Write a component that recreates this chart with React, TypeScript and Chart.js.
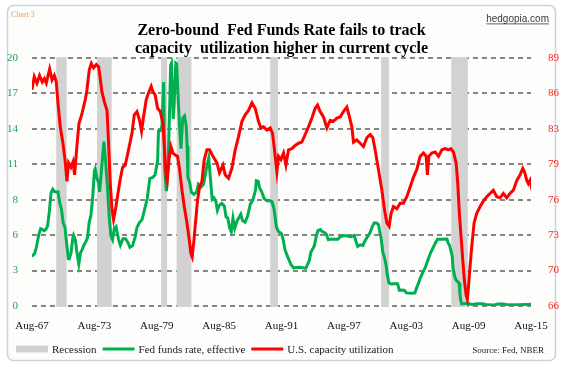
import React, { useEffect, useRef } from 'react';
import { Chart, registerables } from 'chart.js';

Chart.register(...registerables);

// ---------- data ----------
const xTickDates = ['1967-08', '1973-08', '1979-08', '1985-08', '1991-08', '1997-08', '2003-08', '2009-08', '2015-08'];
const xTickLabels = ['Aug-67', 'Aug-73', 'Aug-79', 'Aug-85', 'Aug-91', 'Aug-97', 'Aug-03', 'Aug-09', 'Aug-15'];
const leftTickLabels = ['0', '3', '6', '8', '11', '14', '17', '20'];
const rightTickLabels = ['66', '70', '73', '76', '79', '83', '86', '89'];
const leftRange = [0, 19.5];
const rightRange = [66.3, 89];

const recessionStarts = ['1969-12', '1973-11', '1980-01', '1981-07', '1990-07', '2001-03', '2007-12'];
const recessionEnds = ['1970-11', '1975-03', '1980-07', '1982-11', '1991-03', '2001-11', '2009-06'];

// Fed funds rate, effective (%), by month
const fedFunds: [string, number][] = [
  ['1967-08', 3.9], ['1967-11', 4.12], ['1968-01', 4.61], ['1968-04', 5.66], ['1968-06', 6.07], ['1968-08', 6.02],
  ['1968-10', 5.92], ['1968-12', 6.02], ['1969-02', 6.3], ['1969-04', 7.41], ['1969-06', 8.9], ['1969-08', 9.19],
  ['1969-10', 9.0], ['1969-12', 8.97], ['1970-02', 8.98], ['1970-04', 8.1], ['1970-06', 7.6], ['1970-08', 6.53],
  ['1970-10', 6.2], ['1970-12', 4.9], ['1971-02', 3.72], ['1971-03', 3.71], ['1971-05', 4.14], ['1971-07', 5.31],
  ['1971-08', 5.56], ['1971-10', 5.2], ['1971-12', 4.14], ['1972-02', 3.29], ['1972-04', 4.17], ['1972-06', 4.46],
  ['1972-08', 4.8], ['1972-10', 5.04], ['1972-12', 5.33], ['1973-02', 6.58], ['1973-04', 7.12], ['1973-06', 8.49],
  ['1973-08', 10.61], ['1973-09', 10.78], ['1973-11', 10.03], ['1974-01', 9.65], ['1974-02', 8.97], ['1974-04', 10.51],
  ['1974-07', 12.92], ['1974-09', 11.34], ['1974-11', 9.45], ['1975-01', 7.13], ['1975-03', 5.54], ['1975-05', 5.22],
  ['1975-07', 6.1], ['1975-09', 6.24], ['1975-12', 5.2], ['1976-02', 4.77], ['1976-05', 5.29], ['1976-08', 5.29],
  ['1976-11', 4.95], ['1977-01', 4.61], ['1977-04', 4.73], ['1977-07', 5.42], ['1977-09', 6.14], ['1977-12', 6.56],
  ['1978-03', 6.79], ['1978-06', 7.6], ['1978-09', 8.45], ['1978-12', 10.03], ['1979-03', 10.09], ['1979-06', 10.29],
  ['1979-09', 11.43], ['1979-10', 13.77], ['1979-12', 13.78], ['1980-02', 14.13], ['1980-04', 17.61], ['1980-05', 10.98],
  ['1980-07', 9.03], ['1980-09', 10.87], ['1980-11', 15.85], ['1980-12', 18.9], ['1981-01', 19.08], ['1981-03', 14.7],
  ['1981-04', 15.72], ['1981-06', 19.1], ['1981-07', 19.04], ['1981-09', 15.87], ['1981-11', 13.31], ['1981-12', 12.37],
  ['1982-02', 14.78], ['1982-04', 14.94], ['1982-06', 14.15], ['1982-07', 12.59], ['1982-08', 10.12], ['1982-10', 9.71],
  ['1982-12', 8.95], ['1983-03', 8.77], ['1983-06', 8.98], ['1983-08', 9.56], ['1983-11', 9.34], ['1984-02', 9.59],
  ['1984-04', 10.29], ['1984-06', 11.06], ['1984-08', 11.64], ['1984-10', 9.99], ['1984-12', 8.38], ['1985-02', 8.5],
  ['1985-04', 8.27], ['1985-06', 7.53], ['1985-08', 7.9], ['1985-11', 8.07], ['1986-02', 7.86], ['1986-04', 6.99],
  ['1986-06', 6.92], ['1986-08', 6.17], ['1986-10', 5.85], ['1986-12', 6.91], ['1987-02', 6.1], ['1987-05', 6.73],
  ['1987-09', 7.22], ['1987-11', 6.72], ['1988-02', 6.58], ['1988-05', 7.09], ['1988-08', 8.01], ['1988-11', 8.35],
  ['1989-02', 9.12], ['1989-03', 9.85], ['1989-05', 9.81], ['1989-07', 9.24], ['1989-09', 9.01], ['1989-12', 8.45],
  ['1990-03', 8.28], ['1990-06', 8.29], ['1990-09', 8.2], ['1990-11', 7.74], ['1990-12', 7.31], ['1991-02', 6.25],
  ['1991-04', 5.91], ['1991-06', 5.78], ['1991-08', 5.68], ['1991-10', 5.21], ['1991-12', 4.43], ['1992-02', 4.06],
  ['1992-04', 3.73], ['1992-07', 3.25], ['1992-10', 2.99], ['1993-01', 3.02], ['1993-06', 3.04], ['1993-12', 2.96],
  ['1994-02', 3.25], ['1994-04', 3.56], ['1994-06', 4.25], ['1994-08', 4.47], ['1994-10', 4.76], ['1994-12', 5.45],
  ['1995-02', 5.92], ['1995-05', 6.01], ['1995-07', 5.85], ['1995-10', 5.76], ['1995-12', 5.6], ['1996-02', 5.22],
  ['1996-06', 5.27], ['1996-10', 5.24], ['1997-01', 5.25], ['1997-04', 5.45], ['1997-08', 5.54], ['1997-12', 5.5],
  ['1998-04', 5.45], ['1998-08', 5.55], ['1998-10', 5.07], ['1998-12', 4.68], ['1999-03', 4.81], ['1999-06', 4.76],
  ['1999-08', 5.07], ['1999-11', 5.42], ['2000-02', 5.73], ['2000-05', 6.27], ['2000-07', 6.54], ['2000-10', 6.51],
  ['2000-12', 6.4], ['2001-01', 5.98], ['2001-03', 5.31], ['2001-05', 4.21], ['2001-07', 3.77], ['2001-09', 3.07],
  ['2001-10', 2.49], ['2001-12', 1.82], ['2002-03', 1.73], ['2002-06', 1.75], ['2002-10', 1.75], ['2002-12', 1.24],
  ['2003-03', 1.25], ['2003-06', 1.22], ['2003-08', 1.03], ['2004-03', 1.0], ['2004-06', 1.03], ['2004-08', 1.43],
  ['2004-10', 1.76], ['2004-12', 2.16], ['2005-03', 2.63], ['2005-06', 3.04], ['2005-09', 3.62], ['2005-12', 4.16],
  ['2006-03', 4.59], ['2006-06', 4.99], ['2006-08', 5.25], ['2007-01', 5.25], ['2007-07', 5.26], ['2007-08', 5.02],
  ['2007-10', 4.76], ['2007-12', 4.24], ['2008-01', 3.94], ['2008-02', 2.98], ['2008-04', 2.28], ['2008-06', 2.0],
  ['2008-09', 1.81], ['2008-10', 0.97], ['2008-11', 0.39], ['2008-12', 0.16], ['2009-06', 0.21], ['2009-12', 0.12],
  ['2010-06', 0.18], ['2010-12', 0.18], ['2011-06', 0.09], ['2011-12', 0.07], ['2012-06', 0.16], ['2012-12', 0.16],
  ['2013-06', 0.09], ['2013-12', 0.09], ['2014-06', 0.1], ['2014-12', 0.12], ['2015-06', 0.13], ['2015-08', 0.14],
];

// U.S. capacity utilization (%), [decimal year, value]
const capacity: [number, number][] = [
  [1967.58, 86.1], [1967.8, 87.3], [1968.06, 86.7], [1968.31, 87.4], [1968.57, 86.8], [1968.77, 87.1], [1968.96, 86.7],
  [1969.28, 88.0], [1969.51, 87.0], [1969.73, 87.4], [1969.92, 86.8], [1970.08, 84.9], [1970.3, 82.7], [1970.56, 81.2],
  [1970.76, 79.7], [1970.95, 77.7], [1971.1, 79.4], [1971.33, 79.0], [1971.53, 79.5], [1971.68, 78.3], [1971.91, 81.0],
  [1972.1, 83.0], [1972.39, 83.9], [1972.71, 85.2], [1972.87, 86.1], [1973.09, 87.9], [1973.29, 88.5], [1973.51, 88.1],
  [1973.77, 88.4], [1973.99, 88.2], [1974.15, 87.1], [1974.31, 85.9], [1974.54, 85.0], [1974.8, 84.2], [1974.95, 81.2],
  [1975.11, 77.5], [1975.28, 75.1], [1975.43, 74.2], [1975.66, 75.4], [1975.85, 76.6], [1976.07, 77.9], [1976.3, 79.0],
  [1976.55, 79.2], [1976.87, 80.6], [1977.2, 82.1], [1977.42, 83.8], [1977.68, 84.1], [1977.93, 83.3], [1978.12, 82.3],
  [1978.31, 83.6], [1978.57, 85.2], [1978.79, 85.8], [1979.05, 86.4], [1979.22, 85.9], [1979.44, 85.6], [1979.66, 84.4],
  [1979.92, 84.1], [1980.18, 83.0], [1980.33, 80.6], [1980.5, 78.1], [1980.59, 77.7], [1980.76, 79.7], [1980.95, 80.9],
  [1981.14, 80.3], [1981.39, 80.1], [1981.58, 80.0], [1981.78, 78.8], [1982.01, 76.9], [1982.23, 75.4], [1982.49, 73.9],
  [1982.68, 72.6], [1982.87, 71.1], [1982.99, 70.8], [1983.16, 72.3], [1983.31, 73.9], [1983.51, 76.0], [1983.7, 77.2],
  [1983.93, 77.7], [1984.15, 79.7], [1984.41, 80.6], [1984.66, 80.6], [1984.99, 80.0], [1985.37, 79.4], [1985.62, 78.5],
  [1985.95, 79.2], [1986.17, 78.3], [1986.49, 78.0], [1986.81, 78.9], [1987.13, 80.6], [1987.45, 81.8], [1987.78, 83.2],
  [1988.09, 83.8], [1988.41, 84.2], [1988.74, 84.9], [1989.05, 84.4], [1989.37, 83.2], [1989.6, 82.6], [1989.85, 82.7],
  [1990.18, 82.4], [1990.5, 82.6], [1990.72, 82.1], [1990.91, 80.6], [1991.14, 78.6], [1991.3, 80.0], [1991.53, 79.7],
  [1991.78, 80.3], [1992.01, 79.2], [1992.26, 80.6], [1992.58, 80.7], [1992.9, 81.0], [1993.22, 81.2], [1993.54, 81.3],
  [1993.86, 82.0], [1994.18, 82.7], [1994.51, 83.5], [1994.82, 84.4], [1995.05, 84.7], [1995.3, 84.1], [1995.62, 83.6],
  [1995.95, 82.6], [1996.27, 83.3], [1996.58, 83.2], [1996.91, 83.5], [1997.23, 83.6], [1997.54, 84.1], [1997.87, 84.5],
  [1998.12, 83.6], [1998.35, 82.7], [1998.51, 81.3], [1998.83, 81.5], [1999.15, 81.2], [1999.47, 80.9], [1999.79, 81.7],
  [2000.11, 82.0], [2000.37, 81.7], [2000.59, 80.6], [2000.91, 78.8], [2001.24, 76.9], [2001.49, 75.1], [2001.72, 73.9],
  [2001.94, 73.6], [2002.13, 74.8], [2002.35, 75.4], [2002.68, 75.2], [2003.0, 75.7], [2003.31, 75.7], [2003.64, 76.3],
  [2003.96, 77.2], [2004.28, 78.1], [2004.6, 78.8], [2004.92, 80.0], [2005.24, 80.3], [2005.5, 80.0], [2005.62, 78.3],
  [2005.75, 80.0], [2006.04, 80.3], [2006.36, 80.4], [2006.68, 80.0], [2007.01, 80.6], [2007.32, 80.7], [2007.64, 80.6],
  [2007.87, 80.7], [2008.12, 80.4], [2008.38, 79.4], [2008.54, 77.5], [2008.69, 74.8], [2008.86, 72.6], [2009.02, 70.5],
  [2009.17, 68.7], [2009.34, 67.3], [2009.46, 66.9], [2009.6, 68.4], [2009.72, 69.9], [2009.91, 72.0], [2010.11, 73.9],
  [2010.37, 74.8], [2010.69, 75.4], [2011.0, 75.9], [2011.33, 76.3], [2011.65, 76.6], [2011.96, 76.9], [2012.29, 76.3],
  [2012.61, 76.2], [2012.92, 76.6], [2013.25, 76.2], [2013.56, 76.6], [2013.89, 76.9], [2014.22, 77.8], [2014.54, 78.3],
  [2014.79, 78.9], [2014.95, 78.6], [2015.18, 77.8], [2015.33, 77.5], [2015.49, 77.8], [2015.58, 77.4],
];

const titleLines = ['Zero-bound  Fed Funds Rate fails to track', 'capacity  utilization higher in current cycle'];
const legendLabels = ['Recession', 'Fed funds rate, effective', 'U.S. capacity utilization'];

// ---------- helpers ----------
const toYear = (s: string) => {
  const [y, m] = s.split('-').map(Number);
  return y + (m - 1) / 12;
};

const GREEN = '#00b050';
const RED = '#ff0000';
const GRAY = '#d2d2d2';
const SERIF = '"Liberation Serif", "Times New Roman", serif';

export default function App() {
  const ref = useRef<HTMLCanvasElement>(null);

  useEffect(() => {
    document.body.style.margin = '0';
    const canvas = ref.current!;

    const pat = document.createElement('canvas');
    pat.width = 8;
    pat.height = 8;
    const pc = pat.getContext('2d')!;
    pc.fillStyle = '#fefefc';
    pc.fillRect(0, 0, 8, 8);
    pc.fillStyle = '#ecebc6';
    pc.fillRect(1, 1, 1, 1);
    pc.fillRect(5, 5, 1, 1);

    const bgPlugin = {
      id: 'bg',
      beforeDraw(chart: any) {
        const ctx = chart.ctx as CanvasRenderingContext2D;
        ctx.save();
        ctx.fillStyle = '#ffffff';
        ctx.fillRect(0, 0, chart.width, chart.height);
        ctx.beginPath();
        (ctx as any).roundRect(7.5, 5.5, 548, 355, 6);
        ctx.fillStyle = ctx.createPattern(pat, 'repeat') as CanvasPattern;
        ctx.fill();
        ctx.strokeStyle = '#c9d2e0';
        ctx.lineWidth = 1.5;
        ctx.stroke();
        ctx.restore();
      },
    };

    // dashed horizontal grid from the left axis ticks, then recession bands on top
    const backPlugin = {
      id: 'gridAndRecessions',
      beforeDatasetsDraw(chart: any) {
        const { ctx, chartArea, scales } = chart;
        const xs = scales.x;
        const yl = scales.yL;
        ctx.save();
        ctx.fillStyle = '#858585';
        const n = leftTickLabels.length;
        for (let i = 0; i < n; i++) {
          const v = leftRange[0] + (i * (leftRange[1] - leftRange[0])) / (n - 1);
          const y = Math.round(yl.getPixelForValue(v)) - 1;
          for (let x = chartArea.left; x < chartArea.right; x += 9) {
            ctx.fillRect(x, y, Math.min(5, chartArea.right - x), 2);
          }
        }
        ctx.fillStyle = GRAY;
        recessionStarts.forEach((s, i) => {
          const x1 = xs.getPixelForValue(toYear(s));
          const x2 = xs.getPixelForValue(toYear(recessionEnds[i]) + 1 / 12);
          ctx.fillRect(x1, chartArea.top - 1, x2 - x1, chartArea.bottom - chartArea.top + 2);
        });
        ctx.restore();
      },
    };

    const textPlugin = {
      id: 'texts',
      afterDraw(chart: any) {
        const ctx = chart.ctx as CanvasRenderingContext2D;
        const ca = chart.chartArea;
        const cx = (ca.left + ca.right) / 2;
        ctx.save();
        // title
        ctx.fillStyle = '#000';
        ctx.textAlign = 'center';
        ctx.textBaseline = 'alphabetic';
        ctx.font = `bold 16px ${SERIF}`;
        ctx.fillText(titleLines[0], cx, 35);
        ctx.fillText(titleLines[1], cx, 53);
        // chart no.
        ctx.textAlign = 'left';
        ctx.font = `8px ${SERIF}`;
        ctx.fillStyle = '#f39a4a';
        ctx.fillText('Chart 3', 11, 17);
        // site
        ctx.font = '10px "Liberation Sans", Arial, sans-serif';
        ctx.fillStyle = '#3a3a3a';
        const site = 'hedgopia.com';
        const sw = ctx.measureText(site).width;
        const sx = 549 - sw;
        ctx.fillText(site, sx, 22);
        ctx.fillRect(sx, 23.5, sw, 0.8);
        // legend
        const ly = 349;
        ctx.font = `11px ${SERIF}`;
        ctx.textBaseline = 'middle';
        let x = 16;
        ctx.fillStyle = GRAY;
        ctx.fillRect(x, ly - 3.5, 32, 7);
        x += 36;
        ctx.fillStyle = '#1a1a1a';
        ctx.fillText(legendLabels[0], x, ly + 1);
        x += ctx.measureText(legendLabels[0]).width + 6;
        ctx.strokeStyle = GREEN;
        ctx.lineWidth = 3;
        ctx.beginPath();
        ctx.moveTo(x, ly);
        ctx.lineTo(x + 32, ly);
        ctx.stroke();
        x += 36;
        ctx.fillText(legendLabels[1], x, ly + 1);
        x += ctx.measureText(legendLabels[1]).width + 6;
        ctx.strokeStyle = RED;
        ctx.beginPath();
        ctx.moveTo(x, ly);
        ctx.lineTo(x + 32, ly);
        ctx.stroke();
        x += 36;
        ctx.fillText(legendLabels[2], x, ly + 1);
        // source
        ctx.font = `9px ${SERIF}`;
        ctx.textAlign = 'right';
        ctx.fillText('Source: Fed, NBER', 544, ly + 2);
        ctx.restore();
      },
    };

    const tickFont = { family: SERIF, size: 11 };

    const chart = new Chart(canvas, {
      type: 'line',
      data: {
        datasets: [
          {
            label: legendLabels[2],
            data: capacity.map(([x, y]) => ({ x, y })),
            yAxisID: 'yR',
            borderColor: RED,
            borderWidth: 3,
            pointRadius: 0,
            tension: 0,
            order: 1,
          },
          {
            label: legendLabels[1],
            data: fedFunds.map(([d, y]) => ({ x: toYear(d), y })),
            yAxisID: 'yL',
            borderColor: GREEN,
            borderWidth: 3,
            pointRadius: 0,
            tension: 0,
            order: 2,
          },
        ],
      },
      options: {
        animation: false,
        responsive: false,
        maintainAspectRatio: false,
        parsing: false as any,
        normalized: true,
        layout: { padding: { top: 58, bottom: 0, left: 0, right: 0 } },
        plugins: { legend: { display: false }, tooltip: { enabled: false }, title: { display: false } },
        scales: {
          x: {
            type: 'linear',
            min: toYear(xTickDates[0]),
            max: toYear(xTickDates[xTickDates.length - 1]),
            afterBuildTicks: (s: any) => {
              s.ticks = xTickDates.map((d) => ({ value: toYear(d) }));
            },
            afterFit: (s: any) => {
              s.height = 59;
            },
            ticks: {
              callback: (_v: any, i: number) => xTickLabels[i],
              autoSkip: false,
              maxRotation: 0,
              padding: 6,
              color: '#111',
              font: tickFont,
            },
            grid: { display: false },
            border: { display: false },
          },
          yL: {
            type: 'linear',
            position: 'left',
            min: leftRange[0],
            max: leftRange[1],
            afterBuildTicks: (s: any) => {
              s.ticks = leftTickLabels.map((_, i) => ({
                value: leftRange[0] + (i * (leftRange[1] - leftRange[0])) / (leftTickLabels.length - 1),
              }));
            },
            afterFit: (s: any) => {
              s.width = 32;
            },
            ticks: {
              callback: (_v: any, i: number) => leftTickLabels[i],
              padding: 6,
              color: '#1aa55a',
              font: tickFont,
            },
            grid: { display: false },
            border: { display: false },
          },
          yR: {
            type: 'linear',
            position: 'right',
            min: rightRange[0],
            max: rightRange[1],
            afterBuildTicks: (s: any) => {
              s.ticks = rightTickLabels.map((_, i) => ({
                value: rightRange[0] + (i * (rightRange[1] - rightRange[0])) / (rightTickLabels.length - 1),
              }));
            },
            afterFit: (s: any) => {
              s.width = 32;
            },
            ticks: {
              callback: (_v: any, i: number) => rightTickLabels[i],
              padding: 9,
              color: '#f02828',
              font: tickFont,
            },
            grid: { display: false },
            border: { display: false },
          },
        },
      } as any,
      plugins: [bgPlugin, backPlugin, textPlugin],
    });

    return () => chart.destroy();
  }, []);

  return (
    <div style={{ position: 'absolute', left: 0, top: 0, width: 563, height: 365 }}>
      <canvas ref={ref} width={563} height={365} style={{ width: 563, height: 365, display: 'block' }} />
    </div>
  );
}
